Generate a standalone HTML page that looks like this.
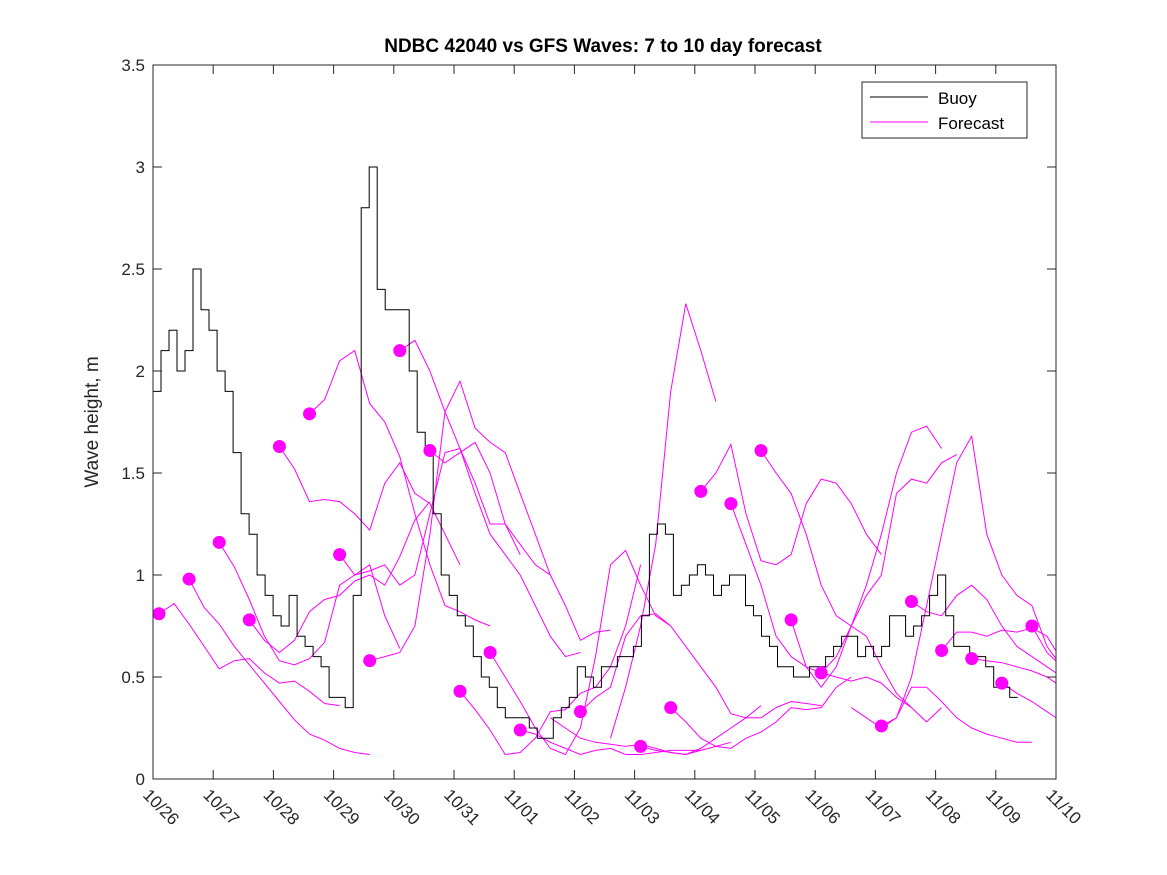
<!DOCTYPE html>
<html><head><meta charset="utf-8"><style>
body{margin:0;background:#fff}
svg{display:block;font-family:"Liberation Sans","DejaVu Sans",sans-serif}
</style></head><body>
<svg id="chart" width="1167" height="875" viewBox="0 0 1167 875">
<rect x="0" y="0" width="1167" height="875" fill="#fff"/>
<text x="603" y="52" text-anchor="middle" font-size="19" font-weight="bold" fill="#000">NDBC 42040 vs GFS Waves: 7 to 10 day forecast</text>
<text transform="translate(98,422) rotate(-90)" text-anchor="middle" font-size="19" fill="#262626">Wave height, m</text>
<defs><clipPath id="pc"><rect x="153" y="65" width="903" height="714"/></clipPath></defs>
<g id="marks" clip-path="url(#pc)"></g>
<g id="axes"></g>
<g>
<rect x="862" y="82" width="165" height="56" fill="#fff" stroke="#262626" stroke-width="1"/>
<line x1="870" y1="97" x2="928" y2="97" stroke="#000" stroke-width="1"/>
<text x="938" y="104" font-size="17" fill="#000">Buoy</text>
<line x1="870" y1="122" x2="928" y2="122" stroke="#f0f" stroke-width="1"/>
<text x="938" y="129" font-size="17" fill="#000">Forecast</text>
</g>
</svg>
<script>
const xTickLabels=["10/26","10/27","10/28","10/29","10/30","10/31","11/01","11/02","11/03","11/04","11/05","11/06","11/07","11/08","11/09","11/10"];
const yTickValues=[0,0.5,1,1.5,2,2.5,3,3.5];
const yTickLabels=["0","0.5","1","1.5","2","2.5","3","3.5"];
const buoyStep=0.133;
const buoyValues=[1.9,2.1,2.2,2.0,2.1,2.5,2.3,2.2,2.0,1.9,1.6,1.3,1.2,1.0,0.9,0.8,0.75,0.9,0.7,0.65,0.6,0.55,0.4,0.4,0.35,0.9,2.8,3.0,2.4,2.3,2.3,2.3,2.0,1.7,1.6,1.3,1.0,0.9,0.8,0.75,0.6,0.5,0.45,0.35,0.3,0.3,0.3,0.25,0.2,0.2,0.3,0.35,0.4,0.55,0.5,0.45,0.55,0.55,0.6,0.6,0.65,0.8,1.2,1.25,1.2,0.9,0.95,1.0,1.05,1.0,0.9,0.95,1.0,1.0,0.85,0.8,0.7,0.65,0.55,0.55,0.5,0.5,0.55,0.55,0.6,0.65,0.7,0.7,0.6,0.65,0.6,0.65,0.8,0.8,0.7,0.75,0.8,0.9,1.0,0.8,0.65,0.65,0.6,0.6,0.55,0.45,0.45,0.4];
const forecastStep=0.25;
const forecastStarts=[0.1,0.6,1.1,1.6,2.1,2.6,3.1,3.6,4.1,4.6,5.1,5.6,6.1,6.6,7.1,7.6,8.1,8.6,9.1,9.6,10.1,10.6,11.1,11.6,12.1,12.6,13.1,13.6,14.1,14.6];
const forecastHasDot=[1,1,1,1,1,1,1,1,1,1,1,1,1,0,1,0,1,1,1,1,1,1,1,0,1,1,1,1,1,1];
const forecastValues=[
[0.81,0.86,0.76,0.65,0.54,0.58,0.59,0.52,0.47,0.48,0.43,0.37,0.36],
[0.98,0.84,0.76,0.65,0.56,0.47,0.38,0.29,0.22,0.19,0.15,0.13,0.12],
[1.16,1.04,0.88,0.70,0.58,0.56,0.59,0.67,0.95,1.0,1.05,0.80,0.64],
[0.78,0.68,0.62,0.68,0.82,0.88,0.90,0.97,1.00,0.95,1.09,1.27,1.36],
[1.63,1.52,1.36,1.37,1.36,1.30,1.22,1.45,1.55,1.40,1.35,1.20,1.05],
[1.79,1.86,2.05,2.10,1.84,1.75,1.58,1.30,1.05,0.85,0.82,0.78,0.75],
[1.10,1.00,1.02,1.05,0.95,1.00,1.30,1.60,1.62,1.45,1.25,1.25,1.10],
[0.58,0.60,0.62,0.75,1.20,1.80,1.95,1.72,1.65,1.60,1.40,1.20,1.00],
[2.10,2.15,2.00,1.80,1.62,1.40,1.20,1.10,1.00,0.85,0.70,0.60,0.62],
[1.61,1.55,1.60,1.65,1.50,1.25,1.15,1.05,1.00,0.85,0.68,0.72,0.73],
[0.43,0.34,0.24,0.12,0.13,0.20,0.33,0.34,0.42,0.45,0.55,0.75,1.05],
[0.62,0.50,0.38,0.25,0.15,0.12,0.25,0.60,1.05,1.12,0.95,0.80,0.75],
[0.24,0.22,0.18,0.15,0.12,0.14,0.15,0.12,0.12,0.13,0.14,0.14,0.14],
[0.30,0.25,0.20,0.18,0.17,0.16,0.17,0.15,0.13,0.12,0.14,0.16,0.18],
[0.33,0.40,0.45,0.70,0.80,0.81,0.75,0.65,0.55,0.45,0.32,0.30,0.36],
[0.20,0.45,0.75,1.15,1.90,2.33,2.10,1.85],
[0.16,0.14,0.13,0.12,0.15,0.20,0.25,0.30,0.30,0.35,0.38,0.37,0.36],
[0.35,0.28,0.20,0.16,0.15,0.20,0.23,0.28,0.35,0.34,0.35,0.45,0.50],
[1.41,1.50,1.64,1.30,1.07,1.05,1.10,1.35,1.47,1.45,1.35,1.20,1.10],
[1.35,1.15,0.95,0.70,0.60,0.55,0.52,0.50,0.48,0.50,0.47,0.40,0.35],
[1.61,1.50,1.40,1.20,0.95,0.80,0.75,0.70,0.55,0.42,0.35,0.28,0.35],
[0.78,0.55,0.45,0.55,0.75,0.90,1.00,1.40,1.47,1.45,1.55,1.59],
[0.52,0.60,0.75,0.95,1.20,1.50,1.70,1.73,1.62],
[0.35,0.30,0.25,0.30,0.45,0.45,0.38,0.30,0.25,0.22,0.20,0.18,0.18],
[0.26,0.30,0.50,0.85,1.20,1.55,1.68,1.20,1.00,0.90,0.85,0.65,0.55],
[0.87,0.82,0.80,0.90,0.95,0.88,0.75,0.65,0.60,0.55,0.50,0.45,0.40],
[0.63,0.72,0.72,0.70,0.73,0.72,0.74,0.70,0.58,0.50,0.45,0.40,0.32],
[0.59,0.58,0.57,0.55,0.53,0.50,0.45,0.40],
[0.47,0.42,0.38,0.33,0.28,0.24,0.21],
[0.75,0.62,0.55,0.52]
];
const NS='http://www.w3.org/2000/svg';
const X0=153,X1=1056,Y0=779,Y1=65,TMAX=15,VMAX=3.5;
function xs(t){return X0+t*(X1-X0)/TMAX;}
function ys(v){return Y0-v*(Y0-Y1)/VMAX;}
function mk(tag,attrs,parent){const e=document.createElementNS(NS,tag);for(const k in attrs)e.setAttribute(k,attrs[k]);parent.appendChild(e);return e;}
const marks=document.getElementById('marks'),axes=document.getElementById('axes');
forecastValues.forEach((vals,i)=>{
  const pts=vals.map((v,k)=>xs(forecastStarts[i]+k*forecastStep).toFixed(1)+','+ys(v).toFixed(1)).join(' ');
  const pl=mk('polyline',{points:pts,fill:'none',stroke:'#f0f','stroke-width':1},marks);
  
  
});
let d='';
buoyValues.forEach((v,k)=>{const x=xs(k*buoyStep),y=ys(v);d+=(k===0?'M':'L')+x.toFixed(1)+','+y.toFixed(1)+' L'+xs((k+1)*buoyStep).toFixed(1)+','+y.toFixed(1)+' ';});
const bl=mk('path',{d:d,fill:'none',stroke:'#000','stroke-width':1},marks);


forecastValues.forEach((vals,i)=>{
  if(!forecastHasDot[i])return;
  const c=mk('circle',{cx:xs(forecastStarts[i]),cy:ys(vals[0]),r:6.5,fill:'#f0f'},marks);
  
  
});
const fr=mk('rect',{x:X0,y:Y1,width:X1-X0,height:Y0-Y1,fill:'none',stroke:'#262626','stroke-width':1},axes);


yTickValues.forEach((v,i)=>{
  const y=ys(v);
  mk('line',{x1:X0,y1:y,x2:X0+9,y2:y,stroke:'#262626'},axes);
  mk('line',{x1:X1,y1:y,x2:X1-9,y2:y,stroke:'#262626'},axes);
  const t=mk('text',{x:X0-8,y:y+6,'text-anchor':'end','font-size':17,fill:'#262626'},axes);
  t.textContent=yTickLabels[i];
  
  
});
xTickLabels.forEach((lab,i)=>{
  const x=xs(i);
  mk('line',{x1:x,y1:Y0,x2:x,y2:Y0-9,stroke:'#262626'},axes);
  mk('line',{x1:x,y1:Y1,x2:x,y2:Y1+9,stroke:'#262626'},axes);
  const t=mk('text',{transform:'translate('+(x-11)+',796) rotate(45)','font-size':17,fill:'#262626'},axes);
  t.textContent=lab;
  
  
});
</script>
</body></html>
